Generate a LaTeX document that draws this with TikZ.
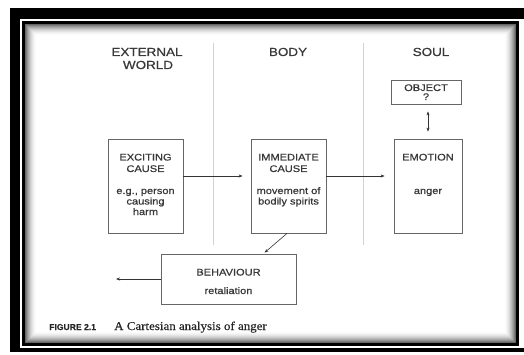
\documentclass[tikz,border=0pt]{standalone}
\usepackage{fontspec}
\setmainfont{Liberation Sans}
\newfontfamily\labfont[FakeStretch=1.15,FakeBold=0.6]{Liberation Sans}
\newfontfamily\figfont[FakeBold=0.4]{Liberation Sans Bold}
\newfontfamily\capserif[FakeStretch=1.08,FakeBold=0.3]{Liberation Serif}
\usetikzlibrary{arrows.meta}
\definecolor{ink}{HTML}{383838}
\definecolor{boxline}{HTML}{666666}
\definecolor{divider}{HTML}{D2D2D2}
\begin{document}
\begin{tikzpicture}[x=1pt,y=-1pt,
  box/.style={draw=boxline, line width=0.8pt, fill=white, inner sep=0pt},
  head/.style={font=\labfont\fontsize{11.7}{13}\selectfont, text=ink, inner sep=0pt, anchor=base},
  lab/.style={font=\labfont\fontsize{9.6}{11}\selectfont, text=ink, inner sep=0pt, anchor=base},
  arr/.style={draw=black!80, line width=0.6pt, -{Stealth[length=4pt,width=3pt]}},
  darr/.style={draw=black!80, line width=0.6pt, {Stealth[length=4pt,width=3pt]}-{Stealth[length=4pt,width=3pt]}},
]
\useasboundingbox (0,0) rectangle (524,355);
% frame
\fill[black] (10,8) rectangle (524,352);
\fill[white] (20,19) rectangle (524,348);
\fill[black] (22,21) rectangle (519,346);
\fill[white] (25,24) rectangle (516,343);
\foreach \i in {0,...,11}{
  \pgfmathsetmacro\g{60*(1-\i/12)^2}
  \draw[black!\g, line width=1pt] (25.5+\i,24.5+\i) rectangle (515.5-\i,342.5-\i);
}
% column dividers
\draw[divider, line width=0.8pt] (213,43) -- (213,245);
\draw[divider, line width=0.8pt] (363,43) -- (363,245);
% headings
\node[head] (h1a) at (147,56) {EXTERNAL};
\node[head] (h1b) at (148,69) {WORLD};
\node[head] (h2) at (288,56) {BODY};
\node[head] (h3) at (431,56) {SOUL};
% boxes
\node[box, minimum width=70, minimum height=24] (obj) at (426,92) {};
\node[box, minimum width=75, minimum height=94] (exc) at (145.5,186) {};
\node[box, minimum width=75, minimum height=94] (imm) at (288.5,186) {};
\node[box, minimum width=68, minimum height=94] (emo) at (428,186) {};
\node[box, minimum width=135, minimum height=50] (beh) at (228.5,279) {};
% box texts
\node[lab] (ob1) at (426,91) {OBJECT};
\node[lab] (ob2) at (426,100) {?};
\node[lab] (ex1) at (145.5,160.5) {EXCITING};
\node[lab] (ex2) at (145.5,172) {CAUSE};
\node[lab] (ex3) at (145.5,194) {e.g., person};
\node[lab] (ex4) at (145.5,204.5) {causing};
\node[lab] (ex5) at (145.5,215) {harm};
\node[lab] (im1) at (288.5,160.5) {IMMEDIATE};
\node[lab] (im2) at (288.5,172) {CAUSE};
\node[lab] (im3) at (288.5,194) {movement of};
\node[lab] (im4) at (288.5,204.5) {bodily spirits};
\node[lab] (em1) at (428,160.5) {EMOTION};
\node[lab] (em2) at (428,194) {anger};
\node[lab] (be1) at (228.5,275.5) {BEHAVIOUR};
\node[lab] (be2) at (228.5,294) {retaliation};
% connectors
\draw[arr] ([yshift=10pt]exc.east) -- ([xshift=-8pt,yshift=10pt]imm.west);
\draw[arr] ([yshift=10pt]imm.east) -- ([xshift=-9pt,yshift=10pt]emo.west);
\draw[darr] ([xshift=2pt,yshift=-7pt]obj.south) -- ([yshift=7pt]emo.north);
\draw[arr] ([xshift=-1.5pt]imm.south) -- ([xshift=104pt,yshift=1pt]beh.north west);
\coordinate (out) at (116,279);
\draw[arr] (beh.west) -- (out);
% caption
\node[font=\figfont\fontsize{8.6}{10}\selectfont, text=black!85, inner sep=0pt, anchor=base west] (fig) at (49,330) {FIGURE 2.1};
\node[font=\capserif\fontsize{12}{13}\selectfont, text=black!85, inner sep=0pt, anchor=base west] (cap) at (114,330) {A Cartesian analysis of anger};
\end{tikzpicture}
\end{document}
